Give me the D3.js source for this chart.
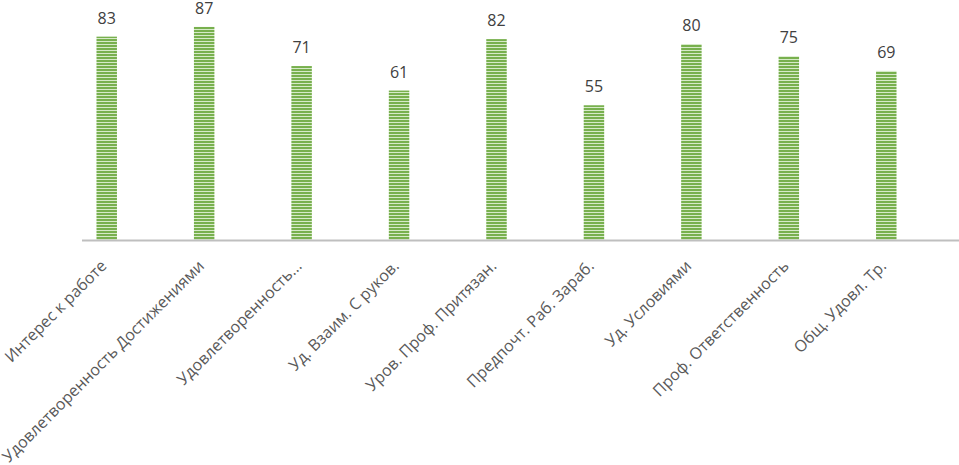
<!DOCTYPE html>
<html>
<head>
<meta charset="utf-8">
<script src="https://cdn.jsdelivr.net/npm/d3@7"></script>
<style>
  body { margin: 0; background: #fff; }
  text { font-family: "Open Sans", sans-serif; fill: #595959; }
</style>
</head>
<body>
<svg width="959" height="465"></svg>
<script>
let categories = ["Интерес к работе", "Удовлетворенность Достижениями", "Удовлетворенность...",
    "Уд. Взаим. С руков.", "Уров. Проф. Притязан.", "Предпочт. Раб. Зараб.",
    "Уд. Условиями", "Проф. Ответственность", "Общ. Удовл. Тр."];
let values = [83, 87, 71, 61, 82, 55, 80, 75, 69];

let svg = d3.select("svg");

// striped fill like the excel pattern
let pat = svg.append("defs").append("pattern")
    .attr("id", "stripes")
    .attr("patternUnits", "userSpaceOnUse")
    .attr("width", 4).attr("height", 3);
pat.append("rect").attr("width", 4).attr("height", 3).attr("fill", "#d6eac8");
pat.append("rect").attr("width", 4).attr("height", 2).attr("fill", "#78b04e");

let x = d3.scaleBand().domain(categories).range([58, 935]).paddingInner(0.79).paddingOuter(0.395);
let y = d3.scaleLinear().domain([0, 100]).range([240, -5]);

let g = svg.append("g");

g.selectAll("rect.bar")
    .data(values)
    .join("rect")
    .attr("class", "bar")
    .attr("x", function (d, i) { return x(categories[i]); })
    .attr("y", function (d) { return y(d); })
    .attr("width", x.bandwidth())
    .attr("height", function (d) { return y(0) - y(d); })
    .attr("fill", "url(#stripes)");

g.selectAll("text.val")
    .data(values)
    .join("text")
    .attr("class", "val")
    .attr("x", function (d, i) { return x(categories[i]) + x.bandwidth() / 2; })
    .attr("y", function (d) { return y(d) - 13; })
    .attr("text-anchor", "middle")
    .style("font-size", "16px")
    .style("fill", "#404040")
    .text(function (d) { return d; });

// axis line
svg.append("line")
    .attr("x1", 82).attr("x2", 959)
    .attr("y1", y(0) + 0.5).attr("y2", y(0) + 0.5)
    .attr("stroke", "#bfbfbf").attr("stroke-width", 2);

svg.selectAll("text.cat")
    .data(categories)
    .join("text")
    .attr("class", "cat")
    .attr("text-anchor", "end")
    .style("font-size", "16px")
    .attr("transform", function (d) {
        return "translate(" + (x(d) + x.bandwidth() / 2 + 1) + ",267) rotate(-45)";
    })
    .text(function (d) { return d; });
</script>
</body>
</html>
